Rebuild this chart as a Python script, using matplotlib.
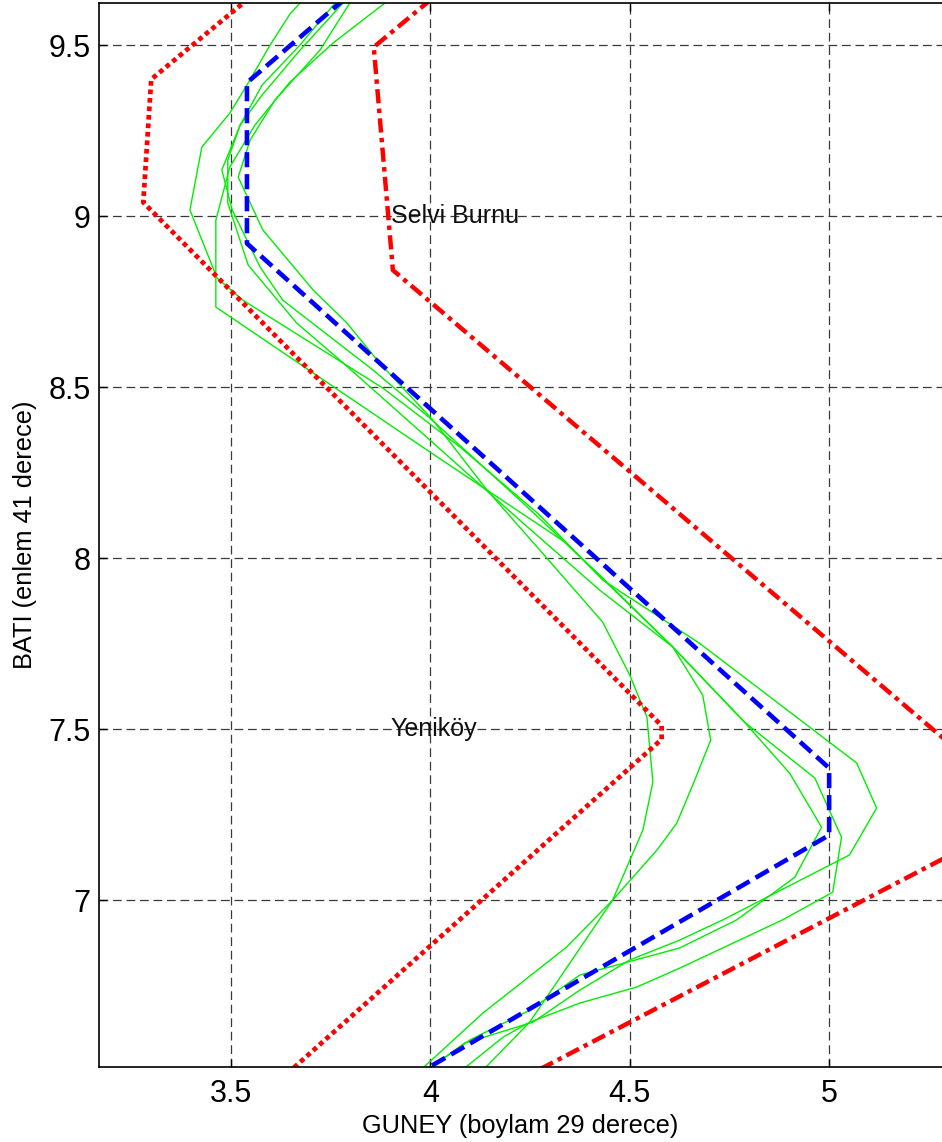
import numpy as np
import matplotlib
matplotlib.use('Agg')
import matplotlib.pyplot as plt
from matplotlib.ticker import FormatStrFormatter

plt.rcParams['font.family'] = ['Liberation Sans', 'DejaVu Sans']

# ''' Mean track (blue dashed) '''
mean_x = [3.85, 3.54, 3.54, 5.00, 5.00, 3.98]
mean_y = [9.70, 9.39, 8.92, 7.386, 7.19, 6.50]

# ''' Lower / upper bounds (red) '''
low_x = [3.60, 3.30, 3.28, 4.58, 4.58, 3.60]
low_y = [9.69, 9.40, 9.04, 7.51, 7.47, 6.45]
up_x = [4.07, 3.858, 3.906, 5.35, 5.35, 4.20]
up_y = [9.70, 9.494, 8.842, 7.41, 7.16, 6.46]

# ''' Individual tracks (green) '''
g1_x = [3.886, 3.756, 3.648, 3.560, 3.497, 3.462, 3.462, 3.999, 4.337, 4.608, 4.683,
        4.703, 4.663, 4.618, 4.568, 4.457, 4.249, 4.137]
g1_y = [9.623, 9.506, 9.392, 9.266, 9.143, 8.988, 8.734, 8.310, 8.047, 7.740, 7.599,
        7.468, 7.351, 7.225, 7.146, 7.000, 6.643, 6.509]
g2_x = [3.673, 3.648, 3.598, 3.540, 3.497, 3.427, 3.397, 3.465, 3.530, 3.881, 4.074,
        4.274, 4.432, 4.675, 5.069, 5.119, 5.051, 4.733, 4.625, 4.500, 4.375, 4.257,
        4.086, 3.999]
g2_y = [9.623, 9.591, 9.500, 9.383, 9.301, 9.202, 9.018, 8.819, 8.754, 8.497, 8.325,
        8.126, 7.936, 7.751, 7.401, 7.269, 7.132, 6.942, 6.883, 6.825, 6.737, 6.643,
        6.582, 6.509]
g3_x = [3.761, 3.673, 3.578, 3.523, 3.477, 3.503, 3.573, 3.630, 3.856, 3.999, 4.224,
        4.425, 4.608, 4.788, 4.964, 5.031, 5.009, 4.883, 4.625, 4.518, 4.375, 4.249,
        4.182, 4.086]
g3_y = [9.623, 9.500, 9.383, 9.266, 9.135, 9.018, 8.851, 8.754, 8.550, 8.409, 8.170,
        7.950, 7.740, 7.520, 7.357, 7.184, 7.023, 6.942, 6.801, 6.746, 6.699, 6.643,
        6.599, 6.509]
g4_x = [3.781, 3.673, 3.578, 3.523, 3.492, 3.492, 3.543, 3.665, 3.773, 3.999, 4.224,
        4.425, 4.608, 4.788, 4.901, 4.981, 4.914, 4.768, 4.625, 4.375, 4.249, 4.099,
        3.999]
g4_y = [9.623, 9.485, 9.354, 9.266, 9.164, 9.038, 8.857, 8.687, 8.579, 8.345, 8.111,
        7.906, 7.740, 7.520, 7.371, 7.213, 7.067, 6.942, 6.860, 6.781, 6.678, 6.591,
        6.509]
g5_x = [3.798, 3.723, 3.610, 3.548, 3.518, 3.580, 3.706, 3.791, 3.873, 4.006, 4.142,
        4.292, 4.432, 4.500, 4.543, 4.558, 4.533, 4.457, 4.342, 4.132, 3.981]
g5_y = [9.623, 9.485, 9.339, 9.222, 9.114, 8.959, 8.784, 8.687, 8.570, 8.404, 8.199,
        8.000, 7.813, 7.658, 7.535, 7.345, 7.205, 7.000, 6.863, 6.670, 6.509]

places = ['Selvi Burnu', 'Yeniköy']
place_x = [3.9, 3.9]
place_y = [9.0, 7.5]

xticks = [3.5, 4, 4.5, 5]
yticks = [7, 7.5, 8, 8.5, 9, 9.5]

fig = plt.figure(figsize=(9.42, 11.42), dpi=100)
ax = fig.add_axes([99/942, 75/1142, 843/942, 1064/1142])

for gx, gy in [(g1_x, g1_y), (g2_x, g2_y), (g3_x, g3_y), (g4_x, g4_y), (g5_x, g5_y)]:
    ax.plot(gx, gy, color='#00ee00', lw=1.0)

ax.plot(low_x, low_y, color='red', lw=3.4, linestyle=(0, (1, 0.8)))
ax.plot(up_x, up_y, color='red', lw=3.2, linestyle=(0, (3.2, 1.2, 1, 1.2)))
ax.plot(mean_x, mean_y, color='blue', lw=3.3, linestyle=(0, (3.3, 1.5)))

for name, px, py in zip(places, place_x, place_y):
    ax.text(px, py, name, fontsize=18, ha='left', va='center', color='#111111')

ax.set_xlim(3.169, 5.283)
ax.set_ylim(6.512, 9.623)
ax.set_xticks(xticks)
ax.set_yticks(yticks)
ax.xaxis.set_major_formatter(FormatStrFormatter('%g'))
ax.yaxis.set_major_formatter(FormatStrFormatter('%g'))
ax.tick_params(direction='in', length=6, width=1, labelsize=22, top=True, right=False)
ax.tick_params(axis='x', pad=9)
ax.tick_params(axis='y', pad=6)
ax.grid(True, color='#3a3a3a', linestyle=(0, (7, 3.8)), linewidth=0.9)
ax.spines['right'].set_visible(False)
for s in ['left', 'bottom', 'top']:
    ax.spines[s].set_linewidth(1.2)

ax.set_xlabel('GUNEY (boylam 29 derece)', fontsize=18.3, labelpad=3)
ax.set_ylabel('BATI (enlem 41 derece)', fontsize=18.3, labelpad=8)

fig.savefig('out.png', dpi=100)
